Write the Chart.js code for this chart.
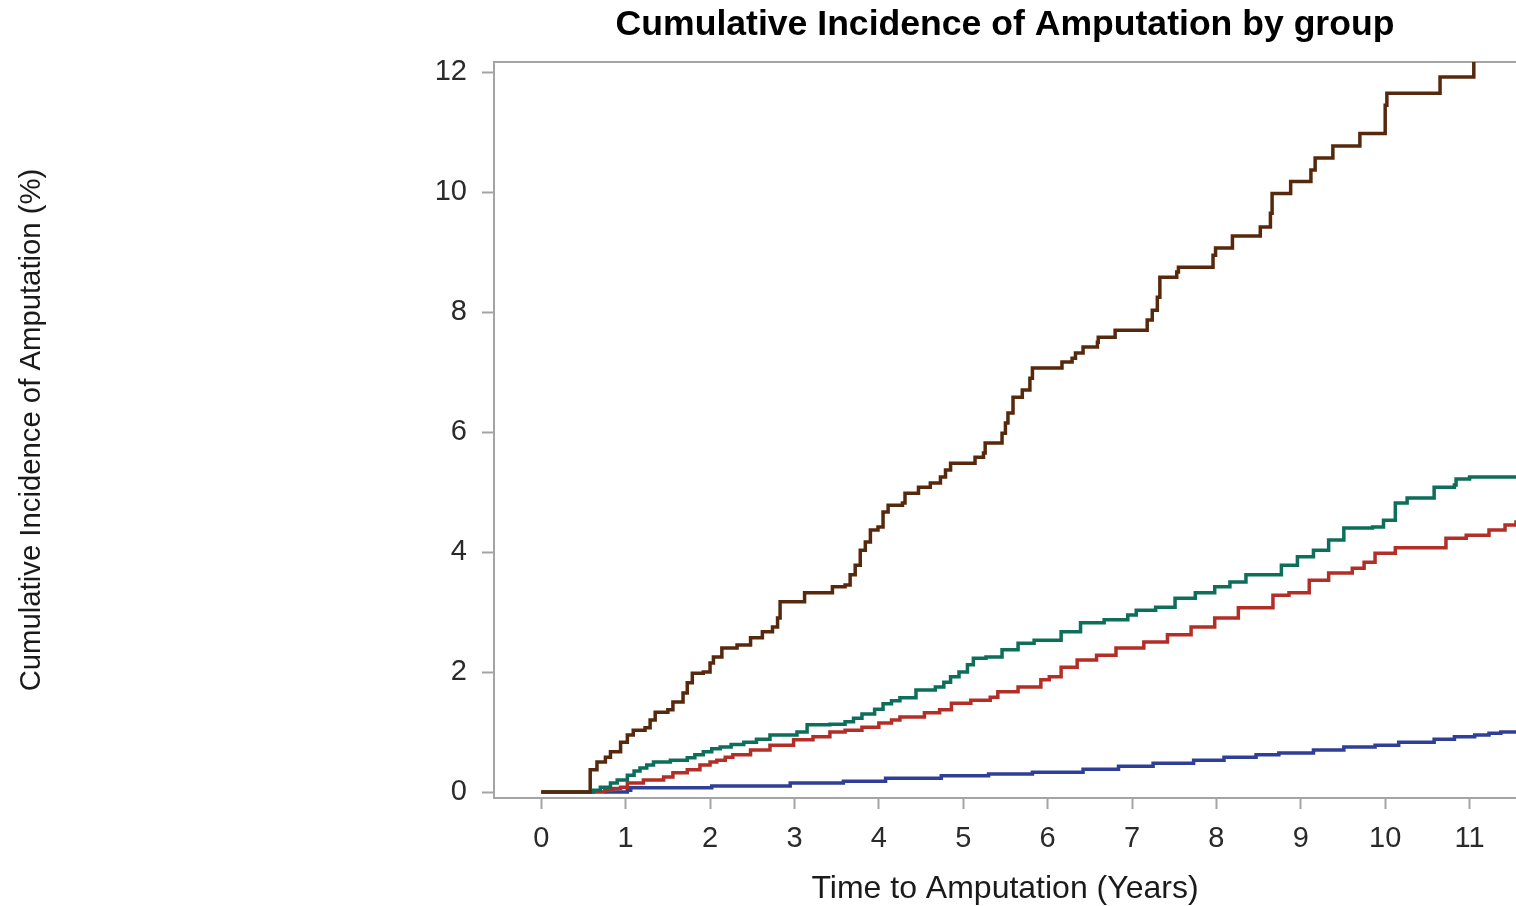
<!DOCTYPE html>
<html>
<head>
<meta charset="utf-8">
<script src="https://cdn.jsdelivr.net/npm/chart.js@4/dist/chart.umd.min.js"></script>
<style>
  html, body { margin: 0; padding: 0; background: #ffffff; }
  canvas { display: block; }
</style>
</head>
<body>
<canvas id="chart" width="1516" height="906"></canvas>
<script>
// Axis tick values
const xTickValues = [0, 1, 2, 3, 4, 5, 6, 7, 8, 9, 10, 11];
const yTickValues = [0, 2, 4, 6, 8, 10, 12];

// Step-function estimates: event times (years) and cumulative incidence (%)
const brownTimes = [0, 0.58, 0.66, 0.76, 0.82, 0.94, 1.02, 1.09, 1.23, 1.29, 1.35, 1.5, 1.56, 1.68, 1.73, 1.79, 1.92, 2.0, 2.04, 2.14, 2.32, 2.48, 2.62, 2.74, 2.8, 2.83, 3.12, 3.45, 3.6, 3.66, 3.72, 3.78, 3.84, 3.9, 3.99, 4.05, 4.11, 4.28, 4.31, 4.47, 4.61, 4.73, 4.79, 4.85, 5.14, 5.24, 5.26, 5.46, 5.5, 5.53, 5.59, 5.7, 5.79, 5.82, 6.17, 6.29, 6.33, 6.42, 6.59, 6.6, 6.8, 7.18, 7.24, 7.3, 7.33, 7.53, 7.55, 7.96, 7.99, 8.19, 8.52, 8.64, 8.66, 8.88, 9.12, 9.17, 9.38, 9.7, 10.0, 10.02, 10.65, 11.05];
const brownValues = [0, 0.37, 0.5, 0.58, 0.67, 0.83, 0.95, 1.03, 1.07, 1.2, 1.33, 1.37, 1.5, 1.65, 1.82, 1.98, 2.0, 2.15, 2.25, 2.4, 2.45, 2.57, 2.67, 2.75, 2.9, 3.17, 3.32, 3.42, 3.45, 3.62, 3.78, 4.03, 4.17, 4.37, 4.42, 4.67, 4.78, 4.82, 4.98, 5.08, 5.15, 5.25, 5.37, 5.48, 5.58, 5.65, 5.82, 5.98, 6.15, 6.32, 6.58, 6.7, 6.9, 7.07, 7.17, 7.23, 7.32, 7.42, 7.5, 7.58, 7.7, 7.87, 8.03, 8.25, 8.58, 8.67, 8.75, 8.95, 9.07, 9.27, 9.42, 9.65, 9.98, 10.18, 10.37, 10.57, 10.77, 10.98, 11.45, 11.65, 11.92, 12.17];

const tealTimes = [0, 0.62, 0.7, 0.82, 0.9, 1.02, 1.1, 1.17, 1.25, 1.33, 1.53, 1.73, 1.82, 1.92, 2.02, 2.12, 2.25, 2.4, 2.55, 2.71, 3.03, 3.15, 3.42, 3.6, 3.7, 3.8, 3.95, 4.05, 4.15, 4.25, 4.44, 4.67, 4.77, 4.85, 4.95, 5.05, 5.12, 5.27, 5.46, 5.65, 5.84, 6.16, 6.39, 6.67, 6.95, 7.05, 7.28, 7.51, 7.75, 7.98, 8.16, 8.35, 8.77, 8.96, 9.15, 9.33, 9.51, 9.85, 9.98, 10.12, 10.26, 10.58, 10.82, 10.84, 11.0, 11.55];
const tealValues = [0, 0.03, 0.08, 0.15, 0.2, 0.28, 0.35, 0.4, 0.45, 0.5, 0.53, 0.57, 0.62, 0.67, 0.72, 0.75, 0.79, 0.83, 0.88, 0.95, 1.0, 1.12, 1.13, 1.17, 1.23, 1.3, 1.38, 1.47, 1.52, 1.57, 1.7, 1.75, 1.83, 1.92, 2.0, 2.12, 2.23, 2.25, 2.37, 2.48, 2.53, 2.67, 2.82, 2.87, 2.95, 3.03, 3.08, 3.23, 3.32, 3.42, 3.5, 3.62, 3.78, 3.92, 4.03, 4.2, 4.4, 4.42, 4.53, 4.82, 4.9, 5.08, 5.12, 5.22, 5.25, 5.25];

const redTimes = [0, 0.75, 0.85, 0.94, 1.02, 1.21, 1.45, 1.56, 1.73, 1.88, 2.0, 2.08, 2.18, 2.27, 2.48, 2.71, 2.99, 3.22, 3.42, 3.6, 3.8, 4.0, 4.15, 4.25, 4.54, 4.72, 4.86, 5.09, 5.32, 5.41, 5.65, 5.92, 6.02, 6.16, 6.35, 6.58, 6.81, 7.14, 7.42, 7.7, 7.98, 8.26, 8.67, 8.86, 9.1, 9.33, 9.61, 9.75, 9.88, 10.12, 10.72, 10.96, 11.23, 11.42, 11.55];
const redValues = [0, 0.03, 0.06, 0.08, 0.15, 0.2, 0.25, 0.32, 0.37, 0.45, 0.5, 0.53, 0.58, 0.62, 0.7, 0.78, 0.87, 0.92, 1.0, 1.03, 1.08, 1.15, 1.2, 1.25, 1.32, 1.37, 1.48, 1.53, 1.58, 1.67, 1.75, 1.87, 1.92, 2.08, 2.2, 2.28, 2.4, 2.5, 2.62, 2.75, 2.9, 3.07, 3.28, 3.32, 3.53, 3.65, 3.73, 3.83, 3.98, 4.07, 4.23, 4.28, 4.37, 4.45, 4.53];

const blueTimes = [0.75, 1.02, 1.06, 2.02, 2.95, 3.58, 4.08, 4.74, 5.3, 5.82, 6.42, 6.84, 7.25, 7.73, 8.09, 8.47, 8.74, 9.15, 9.51, 9.88, 10.16, 10.58, 10.82, 11.06, 11.23, 11.37, 11.55];
const blueValues = [0, 0.03, 0.07, 0.1, 0.15, 0.18, 0.23, 0.27, 0.3, 0.33, 0.38, 0.43, 0.48, 0.53, 0.58, 0.62, 0.65, 0.7, 0.75, 0.78, 0.83, 0.88, 0.92, 0.95, 0.98, 1.0, 1.03];

const FONT = "'Liberation Sans', Arial, Helvetica, sans-serif";
const AXIS_GRAY = '#a4a4a4';

function toPoints(times, values) {
  return times.map((t, i) => ({ x: t, y: values[i] }));
}

function series(label, times, values, color) {
  return {
    label: label,
    data: toPoints(times, values),
    borderColor: color,
    backgroundColor: color,
    borderWidth: 3.5,
    pointRadius: 0,
    pointHoverRadius: 0,
    stepped: true,
    fill: false,
    tension: 0
  };
}

// Draws the top edge of the plot frame
const frameTop = {
  id: 'frameTop',
  beforeDatasetsDraw(chart) {
    const { ctx, chartArea } = chart;
    ctx.save();
    ctx.strokeStyle = AXIS_GRAY;
    ctx.lineWidth = 2;
    ctx.beginPath();
    ctx.moveTo(chartArea.left, chartArea.top);
    ctx.lineTo(chartArea.right, chartArea.top);
    ctx.stroke();
    ctx.restore();
  }
};

new Chart(document.getElementById('chart'), {
  type: 'line',
  data: {
    datasets: [
      series('Group 1', brownTimes, brownValues, '#56290d'),
      series('Group 2', tealTimes, tealValues, '#0d6e5a'),
      series('Group 3', redTimes, redValues, '#b22e26'),
      series('Group 4', blueTimes, blueValues, '#2f3f97')
    ]
  },
  options: {
    responsive: false,
    animation: false,
    layout: { padding: 0 },
    plugins: {
      legend: { display: false },
      tooltip: { enabled: false },
      title: {
        display: true,
        text: 'Cumulative Incidence of Amputation by group',
        fullSize: false,
        color: '#000000',
        font: { family: FONT, size: 35.6, weight: 'bold' },
        padding: { top: 3.5, bottom: 15.8 }
      }
    },
    scales: {
      x: {
        type: 'linear',
        min: -0.56,
        max: 11.55,
        afterBuildTicks: (scale) => { scale.ticks = xTickValues.map(v => ({ value: v })); },
        afterFit: (scale) => { scale.height = 108; },
        ticks: {
          color: '#2a2a2a',
          font: { family: FONT, size: 29 },
          padding: 13,
          maxRotation: 0,
          autoSkip: false,
          callback: (v) => String(v)
        },
        grid: {
          display: true,
          drawOnChartArea: false,
          drawTicks: true,
          tickLength: 11,
          tickColor: AXIS_GRAY,
          tickWidth: 2
        },
        border: { display: true, color: AXIS_GRAY, width: 2 },
        title: {
          display: true,
          text: 'Time to Amputation (Years)',
          color: '#1a1a1a',
          font: { family: FONT, size: 32 },
          padding: { top: 0, bottom: -2 }
        }
      },
      y: {
        type: 'linear',
        min: -0.1,
        max: 12.17,
        afterBuildTicks: (scale) => { scale.ticks = yTickValues.map(v => ({ value: v })); },
        afterFit: (scale) => { scale.width = 494; },
        ticks: {
          color: '#2a2a2a',
          font: { family: FONT, size: 29 },
          padding: 15,
          autoSkip: false,
          callback: (v) => String(v)
        },
        grid: {
          display: true,
          drawOnChartArea: false,
          drawTicks: true,
          tickLength: 12,
          tickColor: AXIS_GRAY,
          tickWidth: 2
        },
        border: { display: true, color: AXIS_GRAY, width: 2 },
        title: {
          display: true,
          text: 'Cumulative Incidence of Amputation (%)',
          color: '#1a1a1a',
          font: { family: FONT, size: 29.3 },
          padding: { top: 14, bottom: 0 }
        }
      }
    }
  },
  plugins: [frameTop]
});
</script>
</body>
</html>
